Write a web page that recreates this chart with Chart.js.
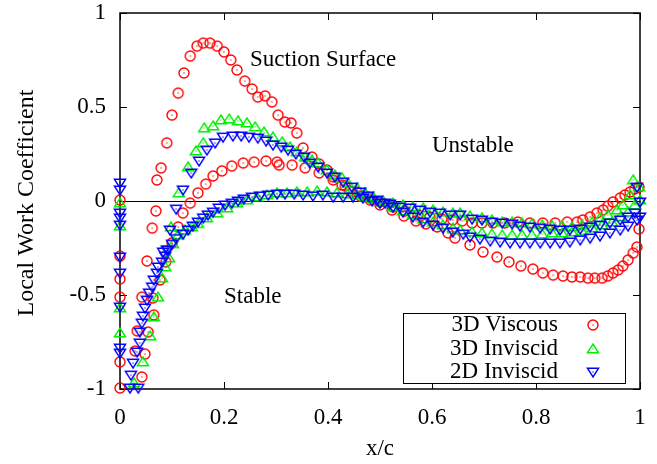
<!DOCTYPE html>
<html><head><meta charset="utf-8">
<script src="https://cdn.jsdelivr.net/npm/chart.js@4.4.0/dist/chart.umd.min.js"></script>
<style>html,body{margin:0;padding:0;background:#fff;}#wrap{width:657px;height:464px;}</style>
</head><body><div id="wrap"><canvas id="c" width="657" height="464"></canvas></div>
<script>
// ---------- data ----------
const xTicks = [0, 0.2, 0.4, 0.6, 0.8, 1];
const xTickLabels = ['0', '0.2', '0.4', '0.6', '0.8', '1'];
const yTicks = [-1, -0.5, 0, 0.5, 1];
const yTickLabels = ['-1', '-0.5', '0', '0.5', '1'];
const seriesNames = ['3D Viscous', '3D Inviscid', '2D Inviscid'];
const xTitle = 'x/c';
const yTitle = 'Local Work Coefficient';
const notes = ['Suction Surface', 'Unstable', 'Stable'];

// 3D Viscous
const viscousLeX = [0, 0, 0, 0, 0, 0];
const viscousLeY = [0.005, -0.293, -0.415, -0.511, -0.856, -0.995];
const viscousSucX = [0.029,0.033,0.042,0.052,0.062,0.069,0.071,0.079,0.090,0.100,0.112,0.123,0.135,0.148,0.160,0.173,0.187,0.200,0.213,0.225,0.240,0.254,0.265,0.279,0.292,0.304,0.317,0.329,0.340,0.352,0.369,0.383,0.398,0.410,0.427,0.442,0.462,0.481,0.500,0.523,0.546,0.569,0.588,0.610,0.631,0.644,0.673,0.698,0.725,0.748,0.771,0.794,0.813,0.833,0.852,0.869,0.885,0.900,0.913,0.927,0.938,0.948,0.958,0.967,0.977,0.987,0.994,0.998];
const viscousSucY = [-0.798,-0.691,-0.511,-0.319,-0.144,-0.053,0.112,0.176,0.309,0.457,0.574,0.681,0.771,0.824,0.840,0.840,0.824,0.793,0.750,0.697,0.638,0.596,0.553,0.559,0.527,0.457,0.420,0.415,0.362,0.282,0.234,0.197,0.165,0.128,0.085,0.053,0.027,0.005,-0.021,-0.048,-0.080,-0.106,-0.122,-0.138,-0.170,-0.197,-0.234,-0.271,-0.298,-0.324,-0.346,-0.362,-0.383,-0.394,-0.399,-0.404,-0.404,-0.410,-0.410,-0.410,-0.399,-0.383,-0.367,-0.346,-0.314,-0.277,-0.245,-0.149];
const viscousPresX = [0.042,0.048,0.054,0.065,0.063,0.077,0.088,0.100,0.112,0.121,0.135,0.150,0.165,0.179,0.196,0.215,0.237,0.258,0.281,0.302,0.306,0.331,0.356,0.383,0.410,0.433,0.456,0.477,0.500,0.525,0.548,0.573,0.596,0.619,0.640,0.658,0.677,0.696,0.717,0.740,0.765,0.788,0.813,0.837,0.860,0.879,0.890,0.904,0.917,0.929,0.938,0.948,0.962,0.971,0.981,0.990,0.998];
const viscousPresY = [-0.936,-0.814,-0.697,-0.606,-0.516,-0.420,-0.324,-0.223,-0.138,-0.064,-0.011,0.043,0.090,0.133,0.160,0.186,0.202,0.207,0.213,0.207,0.191,0.191,0.176,0.149,0.112,0.080,0.048,0.021,-0.005,-0.032,-0.053,-0.074,-0.085,-0.096,-0.101,-0.106,-0.117,-0.117,-0.117,-0.117,-0.112,-0.117,-0.117,-0.117,-0.112,-0.112,-0.101,-0.085,-0.064,-0.048,-0.027,-0.005,0.016,0.032,0.048,0.064,0.074];

// 3D Inviscid
const inv3LeX = [0, 0, 0, 0];
const inv3LeY = [-0.011, -0.133, -0.569, -0.702];
const inv3PresX = [0.027,0.044,0.058,0.065,0.073,0.081,0.087,0.094,0.102,0.112,0.125,0.138,0.150,0.167,0.187,0.206,0.225,0.244,0.263,0.283,0.302,0.321,0.340,0.360,0.379,0.398,0.417,0.437,0.456,0.471,0.487,0.506,0.525,0.544,0.563,0.583,0.602,0.621,0.640,0.654,0.673,0.696,0.715,0.735,0.754,0.773,0.792,0.812,0.831,0.850,0.869,0.888,0.908,0.923,0.938,0.956,0.967,0.981,0.987,0.998];
const inv3PresY = [-0.968,-0.856,-0.718,-0.617,-0.511,-0.410,-0.351,-0.303,-0.228,-0.180,-0.155,-0.138,-0.120,-0.090,-0.064,-0.037,-0.011,0.005,0.021,0.032,0.043,0.043,0.048,0.048,0.053,0.048,0.043,0.037,0.032,0.021,0.011,0,-0.011,-0.021,-0.032,-0.037,-0.048,-0.059,-0.064,-0.064,-0.080,-0.090,-0.101,-0.112,-0.112,-0.117,-0.122,-0.128,-0.133,-0.133,-0.138,-0.128,-0.112,-0.090,-0.074,-0.048,-0.021,0.032,0.112,0.074];
const inv3SucX = [0.098,0.113,0.131,0.146,0.160,0.162,0.179,0.194,0.210,0.227,0.244,0.260,0.277,0.294,0.312,0.327,0.340,0.356,0.369,0.381,0.398,0.413,0.427,0.438,0.456,0.471,0.487,0.506,0.525,0.544,0.563,0.583,0.602,0.621,0.640,0.654,0.677,0.696,0.715,0.735,0.754,0.773,0.792,0.812,0.831,0.850,0.869,0.888,0.908,0.927,0.946,0.962,0.977,0.990,1.0];
const inv3SucY = [-0.138,0.043,0.181,0.266,0.309,0.388,0.399,0.431,0.436,0.426,0.415,0.394,0.367,0.340,0.314,0.287,0.261,0.234,0.218,0.202,0.165,0.138,0.122,0.096,0.069,0.043,0.021,-0.005,-0.032,-0.053,-0.074,-0.096,-0.112,-0.128,-0.144,-0.154,-0.165,-0.170,-0.176,-0.181,-0.181,-0.181,-0.181,-0.176,-0.170,-0.170,-0.165,-0.160,-0.144,-0.128,-0.112,-0.085,-0.059,-0.021,0.005];

// 2D Inviscid
const inv2LeX = [0,0,0,0,0,0,0,0,0,0];
const inv2LeY = [0.096,0.059,-0.064,-0.090,-0.128,-0.298,-0.383,-0.564,-0.782,-0.809];
const inv2PresX = [0.019,0.035,0.021,0.025,0.033,0.038,0.038,0.042,0.044,0.048,0.052,0.056,0.062,0.065,0.071,0.073,0.081,0.087,0.092,0.100,0.108,0.121,0.131,0.140,0.150,0.160,0.169,0.179,0.190,0.202,0.215,0.227,0.238,0.254,0.269,0.285,0.302,0.317,0.335,0.352,0.371,0.390,0.410,0.429,0.448,0.467,0.485,0.500,0.519,0.538,0.558,0.577,0.596,0.615,0.635,0.654,0.677,0.696,0.715,0.735,0.754,0.769,0.788,0.808,0.827,0.846,0.865,0.885,0.904,0.923,0.942,0.962,0.977,0.990,0.994,1.0];
const inv2PresY = [-0.995,-0.995,-0.926,-0.862,-0.803,-0.755,-0.697,-0.649,-0.612,-0.569,-0.527,-0.489,-0.457,-0.420,-0.383,-0.351,-0.324,-0.293,-0.260,-0.230,-0.200,-0.176,-0.154,-0.133,-0.112,-0.090,-0.074,-0.059,-0.037,-0.021,-0.011,0,0.011,0.021,0.027,0.032,0.037,0.037,0.037,0.032,0.027,0.032,0.021,0.021,0.021,0.016,0,-0.011,-0.016,-0.032,-0.037,-0.048,-0.059,-0.064,-0.074,-0.074,-0.096,-0.101,-0.112,-0.117,-0.122,-0.133,-0.138,-0.144,-0.149,-0.154,-0.154,-0.149,-0.138,-0.128,-0.117,-0.101,-0.085,-0.064,0.074,-0.005];
const inv2SucX = [0.083,0.090,0.096,0.108,0.121,0.137,0.152,0.167,0.183,0.198,0.217,0.233,0.248,0.265,0.281,0.294,0.310,0.323,0.338,0.354,0.365,0.381,0.398,0.413,0.429,0.446,0.462,0.477,0.494,0.510,0.525,0.544,0.563,0.583,0.602,0.621,0.640,0.660,0.673,0.692,0.712,0.731,0.750,0.769,0.788,0.808,0.827,0.846,0.865,0.885,0.904,0.923,0.942,0.962,0.977,0.994,1.0];
const inv2SucY = [-0.271,-0.261,-0.154,-0.043,0.059,0.149,0.213,0.271,0.309,0.340,0.346,0.346,0.340,0.335,0.319,0.298,0.287,0.271,0.250,0.234,0.202,0.181,0.149,0.128,0.101,0.074,0.048,0.027,0.005,-0.011,-0.032,-0.059,-0.085,-0.112,-0.128,-0.144,-0.165,-0.176,-0.191,-0.202,-0.213,-0.218,-0.223,-0.223,-0.223,-0.223,-0.223,-0.223,-0.218,-0.207,-0.197,-0.186,-0.170,-0.154,-0.133,-0.101,-0.085];

// ---------- build ----------
function pts(xs, ys) { return xs.map((x, i) => ({ x: x, y: ys[i] })); }
const FONT = '"Liberation Serif", "Times New Roman", serif';
const colors = ['#ff0000', '#00ee00', '#0000ff'];

function makeMarker(kind, color) {
  const s = 16, m = 8;
  const c = document.createElement('canvas');
  c.width = s; c.height = s;
  const g = c.getContext('2d');
  g.strokeStyle = color; g.fillStyle = color; g.lineWidth = 1.4;
  g.beginPath();
  if (kind === 'circle') g.arc(m, m, 5, 0, Math.PI * 2);
  else if (kind === 'up') { g.moveTo(m, m - 5); g.lineTo(m + 5.6, m + 3.8); g.lineTo(m - 5.6, m + 3.8); g.closePath(); }
  else { g.moveTo(m, m + 5); g.lineTo(m + 5.6, m - 3.8); g.lineTo(m - 5.6, m - 3.8); g.closePath(); }
  g.stroke();
  g.fillRect(m - 0.6, m - 0.6, 1.2, 1.2);
  return c;
}
const markers = [makeMarker('circle', colors[0]), makeMarker('up', colors[1]), makeMarker('down', colors[2])];

const dsData = [
  pts(viscousLeX, viscousLeY).concat(pts(viscousSucX, viscousSucY), pts(viscousPresX, viscousPresY)),
  pts(inv3LeX, inv3LeY).concat(pts(inv3PresX, inv3PresY), pts(inv3SucX, inv3SucY)),
  pts(inv2LeX, inv2LeY).concat(pts(inv2PresX, inv2PresY), pts(inv2SucX, inv2SucY))
];

const datasets = seriesNames.map((name, i) => ({
  label: name,
  data: dsData[i],
  showLine: false,
  pointStyle: markers[i],
  pointRadius: 5,
  pointHoverRadius: 5,
  borderColor: colors[i],
  backgroundColor: colors[i],
  clip: false,
  order: 3 - i
}));

const decor = {
  id: 'decor',
  beforeDraw(chart) {
    const ctx = chart.ctx;
    ctx.save(); ctx.fillStyle = '#fff'; ctx.fillRect(0, 0, chart.width, chart.height); ctx.restore();
  },
  beforeDatasetsDraw(chart) {
    const ctx = chart.ctx, a = chart.chartArea, xs = chart.scales.x, ys = chart.scales.y;
    ctx.save();
    ctx.strokeStyle = '#000';
    ctx.lineWidth = 1;
    const y0 = Math.round(ys.getPixelForValue(0)) + 0.5;
    ctx.beginPath(); ctx.moveTo(a.left, y0); ctx.lineTo(a.right, y0); ctx.stroke();
    ctx.lineWidth = 1.5;
    ctx.strokeRect(a.left, a.top, a.right - a.left, a.bottom - a.top);
    ctx.lineWidth = 1;
    const tl = 7;
    ctx.beginPath();
    xTicks.forEach(v => {
      const px = Math.round(xs.getPixelForValue(v)) + 0.5;
      ctx.moveTo(px, a.bottom); ctx.lineTo(px, a.bottom - tl);
      ctx.moveTo(px, a.top); ctx.lineTo(px, a.top + tl);
    });
    yTicks.forEach(v => {
      const py = Math.round(ys.getPixelForValue(v)) + 0.5;
      ctx.moveTo(a.left, py); ctx.lineTo(a.left + tl, py);
      ctx.moveTo(a.right, py); ctx.lineTo(a.right - tl, py);
    });
    ctx.stroke();
    ctx.fillStyle = '#000';
    ctx.font = '23px ' + FONT;
    ctx.textBaseline = 'middle'; ctx.textAlign = 'left';
    ctx.fillText(notes[0], 250, 60);
    ctx.fillText(notes[1], 432, 146);
    ctx.fillText(notes[2], 224, 297);
    ctx.textAlign = 'center';
    ctx.fillText(xTitle, 380, 449);
    ctx.save();
    ctx.font = '24px ' + FONT;
    ctx.translate(27, 203); ctx.rotate(-Math.PI / 2);
    ctx.fillText(yTitle, 0, 0);
    ctx.restore();
    ctx.restore();
  },
  afterDraw(chart) {
    const ctx = chart.ctx;
    ctx.save();
    ctx.fillStyle = '#fff';
    ctx.fillRect(403, 313, 223, 70);
    ctx.strokeStyle = '#000'; ctx.lineWidth = 1;
    ctx.strokeRect(403.5, 313.5, 222, 70);
    ctx.fillStyle = '#000';
    ctx.font = '23px ' + FONT;
    ctx.textAlign = 'right'; ctx.textBaseline = 'middle';
    const rowY = [325, 348.5, 372];
    seriesNames.forEach((n, i) => {
      ctx.fillText(n, 558, rowY[i]);
      ctx.drawImage(markers[i], 593 - 8, Math.round(rowY[i]) - 8);
    });
    ctx.restore();
  }
};

new Chart(document.getElementById('c'), {
  type: 'scatter',
  data: { datasets: datasets },
  options: {
    responsive: false,
    animation: false,
    devicePixelRatio: 1,
    layout: { padding: { top: 13, right: 17, left: 0, bottom: 0 } },
    plugins: { legend: { display: false }, tooltip: { enabled: false }, title: { display: false } },
    scales: {
      x: {
        type: 'linear', min: 0, max: 1,
        afterBuildTicks: s => { s.ticks = xTicks.map(v => ({ value: v })); },
        afterFit: s => { s.height = 75; s.paddingLeft = 0; s.paddingRight = 0; },
        grid: { display: false, drawTicks: false },
        border: { display: false },
        ticks: { color: '#000', padding: 17, maxRotation: 0, autoSkip: false,
          font: { family: FONT, size: 23, lineHeight: 1 },
          callback: (v, i) => xTickLabels[i] }
      },
      y: {
        type: 'linear', min: -1, max: 1,
        afterBuildTicks: s => { s.ticks = yTicks.map(v => ({ value: v })); },
        afterFit: s => { s.width = 120; s.paddingTop = 0; s.paddingBottom = 0; },
        grid: { display: false, drawTicks: false },
        border: { display: false },
        ticks: { color: '#000', padding: 14, autoSkip: false,
          font: { family: FONT, size: 23, lineHeight: 1 },
          callback: (v, i) => yTickLabels[i] }
      }
    }
  },
  plugins: [decor]
});
</script>
</body></html>
